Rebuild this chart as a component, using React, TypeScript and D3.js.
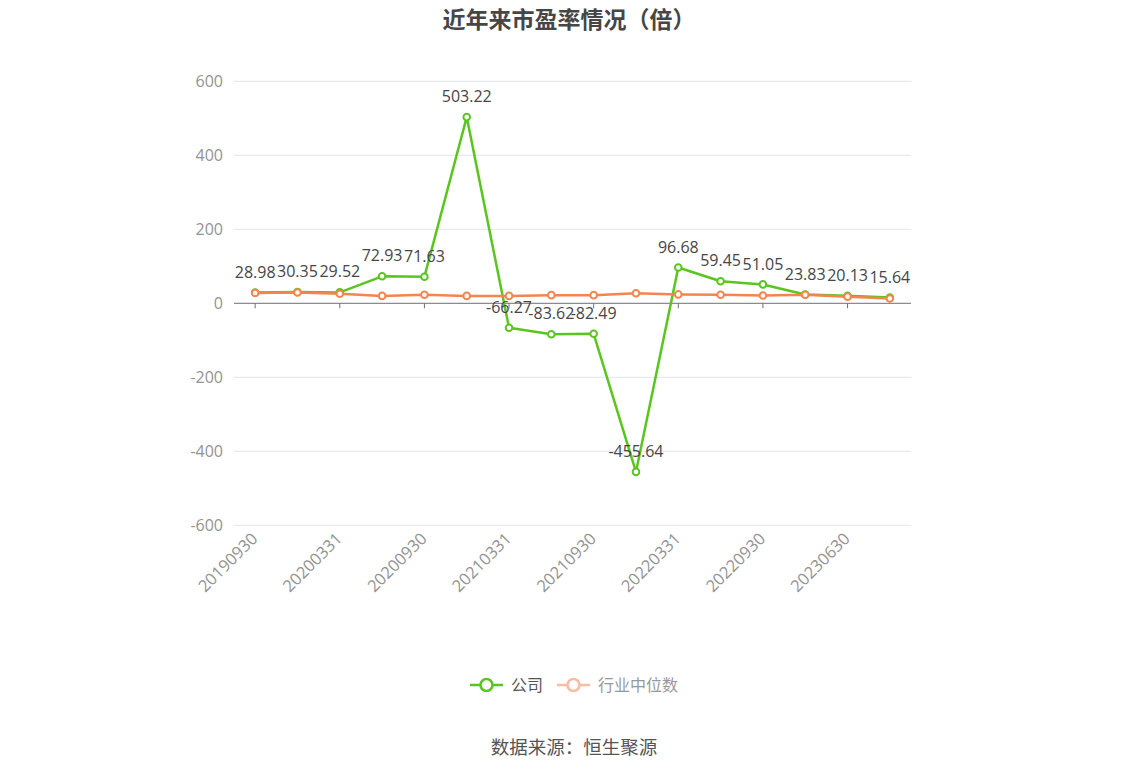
import React, { useEffect, useRef } from 'react';
import * as d3 from 'd3';

const dates = [
  '20190930', '20191231', '20200331', '20200630', '20200930', '20201231',
  '20210331', '20210630', '20210930', '20211231', '20220331', '20220630',
  '20220930', '20230331', '20230630', '20230930',
];
const company = [
  28.98, 30.35, 29.52, 72.93, 71.63, 503.22, -66.27, -83.62, -82.49, -455.64,
  96.68, 59.45, 51.05, 23.83, 20.13, 15.64,
];
const industry = [28, 29, 26, 20, 23, 20, 20, 22, 22, 27, 24, 23, 21, 23, 18, 13];
const yTicks = [-600, -400, -200, 0, 200, 400, 600];

const GREEN = '#5ac51f';
const ORANGE = '#f5844f';
const CJK = '"Noto Sans CJK SC", "Noto Sans", sans-serif';
const NUM = '"Open Sans", "Noto Sans CJK SC", sans-serif';

const App: React.FC = () => {
  const svgRef = useRef<SVGSVGElement>(null);

  useEffect(() => {
    if (!svgRef.current) return;
    const svg = d3.select(svgRef.current);
    svg.selectAll('*').remove();

    const left = 234, right = 911, top = 81.3, bottom = 525.3;

    const x = d3.scaleBand<string>().domain(dates).range([left, right]);
    const cx = (d: string) => (x(d) ?? 0) + x.bandwidth() / 2;
    const y = d3.scaleLinear().domain([-600, 600]).range([bottom, top]);

    // title
    svg.append('text')
      .attr('x', 569).attr('y', 27.5)
      .attr('text-anchor', 'middle')
      .attr('font-family', CJK).attr('font-size', 23).attr('font-weight', 'bold')
      .attr('fill', '#464646')
      .text('近年来市盈率情况（倍）');

    // grid + y labels
    const grid = svg.append('g');
    yTicks.forEach(t => {
      if (t !== 0) {
        grid.append('line')
          .attr('x1', left).attr('x2', right)
          .attr('y1', y(t)).attr('y2', y(t))
          .attr('stroke', '#e0e6f1').attr('stroke-width', 1);
      }
      grid.append('text')
        .attr('x', 223).attr('y', y(t))
        .attr('dy', '0.35em')
        .attr('text-anchor', 'end')
        .attr('font-family', NUM).attr('font-size', 16)
        .attr('fill', '#939393')
        .text(t);
    });

    // x axis at zero
    svg.append('line')
      .attr('x1', left).attr('x2', right)
      .attr('y1', y(0)).attr('y2', y(0))
      .attr('stroke', '#6e7079').attr('stroke-width', 1);

    const labelled = dates.filter((_, i) => i % 2 === 0);
    labelled.forEach(d => {
      svg.append('line')
        .attr('x1', cx(d)).attr('x2', cx(d))
        .attr('y1', y(0)).attr('y2', y(0) + 5)
        .attr('stroke', '#6e7079');
      svg.append('text')
        .attr('transform', `translate(${cx(d) - 3},${bottom + 8}) rotate(-45)`)
        .attr('text-anchor', 'end')
        .attr('dy', '0.55em')
        .attr('font-family', NUM).attr('font-size', 16.5)
        .attr('fill', '#939393')
        .text(d);
    });

    const drawSeries = (vals: number[], color: string) => {
      const line = d3.line<number>()
        .x((_, i) => cx(dates[i]))
        .y(v => y(v));
      svg.append('path')
        .datum(vals)
        .attr('d', line)
        .attr('fill', 'none')
        .attr('stroke', color)
        .attr('stroke-width', 2.5)
        .attr('stroke-linejoin', 'round');
      svg.append('g').selectAll('circle')
        .data(vals).enter().append('circle')
        .attr('cx', (_, i) => cx(dates[i]))
        .attr('cy', v => y(v))
        .attr('r', 3.3)
        .attr('fill', '#fff')
        .attr('stroke', color)
        .attr('stroke-width', 2);
    };
    drawSeries(company, GREEN);
    drawSeries(industry, ORANGE);

    // company labels on top of both lines
    svg.append('g').selectAll('text')
      .data(company).enter().append('text')
      .attr('x', (_, i) => cx(dates[i]))
      .attr('y', v => y(v) - 20.5)
      .attr('dy', '0.35em')
      .attr('text-anchor', 'middle')
      .attr('font-family', NUM).attr('font-size', 16)
      .attr('fill', '#464646')
      .text(v => v.toFixed(2));

    // legend
    const legend = [
      { name: '公司', color: GREEN, text: '#555', x: 470 },
      { name: '行业中位数', color: '#f8bba3', text: '#999', x: 557 },
    ];
    legend.forEach(l => {
      const g = svg.append('g').attr('transform', `translate(${l.x},685)`);
      g.append('line').attr('x1', 0).attr('x2', 33).attr('y1', 0).attr('y2', 0)
        .attr('stroke', l.color).attr('stroke-width', 2.5);
      g.append('circle').attr('cx', 16.5).attr('cy', 0).attr('r', 6)
        .attr('fill', '#fff').attr('stroke', l.color).attr('stroke-width', 2.5);
      g.append('text').attr('x', 41).attr('y', 0).attr('dy', '0.35em')
        .attr('font-family', CJK).attr('font-size', 16)
        .attr('fill', l.text)
        .text(l.name);
    });

    // source
    svg.append('text')
      .attr('x', 574).attr('y', 748)
      .attr('dy', '0.35em')
      .attr('text-anchor', 'middle')
      .attr('font-family', CJK).attr('font-size', 18.5)
      .attr('fill', '#555')
      .text('数据来源：恒生聚源');
  }, []);

  return (
    <svg
      ref={svgRef}
      width={1148}
      height={776}
      style={{ position: 'absolute', left: 0, top: 0, background: '#fff' }}
    />
  );
};

export default App;
